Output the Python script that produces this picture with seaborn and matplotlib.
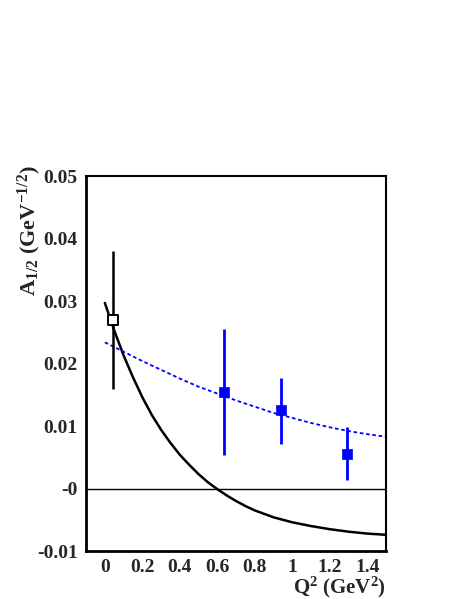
import numpy as np
import pandas as pd
import matplotlib
matplotlib.use("Agg")
import matplotlib.pyplot as plt
from matplotlib.ticker import MultipleLocator, FixedLocator, FixedFormatter
import seaborn as sns

# data
q2_open = [0.043]
a_open = [0.027]
err_open = [0.011]

q2_pts = [0.637, 0.94, 1.29]
a_pts = [0.0155, 0.0125, 0.0056]
err_lo = [0.0101, 0.0053, 0.0043]
err_hi = [0.0101, 0.0052, 0.0043]

q2_solid = [0.0, 0.05, 0.1, 0.15, 0.2, 0.25, 0.3, 0.35, 0.4, 0.45, 0.5, 0.55,
            0.6, 0.65, 0.7, 0.75, 0.8, 0.9, 1.0, 1.1, 1.2, 1.3, 1.4, 1.5]
a_solid = [0.0297, 0.0253, 0.0213, 0.0178, 0.0146, 0.0118, 0.0094, 0.0073,
           0.0054, 0.0038, 0.0023, 0.0010, -0.0001, -0.0011, -0.0020, -0.0028,
           -0.0035, -0.0046, -0.0054, -0.0060, -0.0065, -0.0069, -0.0072,
           -0.0074]

q2_dot = [0.0, 0.1, 0.2, 0.3, 0.4, 0.5, 0.6, 0.7, 0.8, 0.9, 1.0, 1.1, 1.2,
          1.3, 1.4, 1.5]
a_dot = [0.0234, 0.0219, 0.0204, 0.0190, 0.0176, 0.0163, 0.0152, 0.0141,
         0.0131, 0.0121, 0.0113, 0.0105, 0.0098, 0.0092, 0.0087, 0.0083]

sns.set_style("white")
plt.rcParams['font.family'] = ['Liberation Serif', 'DejaVu Serif']
plt.rcParams['font.weight'] = 'bold'
plt.rcParams['mathtext.fontset'] = 'custom'
plt.rcParams['mathtext.rm'] = 'Liberation Serif:bold'
plt.rcParams['mathtext.it'] = 'Liberation Serif:italic'
plt.rcParams['mathtext.bf'] = 'Liberation Serif:bold'

fig = plt.figure(figsize=(4.63, 5.99), dpi=100)
ax = fig.add_axes([0.186, 0.080, 0.648, 0.626])

ax.axhline(0, color='black', lw=1.0, zorder=1)

sns.lineplot(x=q2_solid, y=a_solid, ax=ax, color='black', lw=1.8, zorder=2)
sns.lineplot(x=q2_dot, y=a_dot, ax=ax, color='blue', lw=1.3, zorder=2,
             linestyle=(0, (2, 1.5)))

ax.errorbar(q2_open, a_open, yerr=err_open, fmt='none', ecolor='black',
            elinewidth=1.8, zorder=3)
sns.scatterplot(x=q2_open, y=a_open, ax=ax, marker='s', s=62,
                facecolor='white', edgecolor='black', linewidth=1.4, zorder=4)

ax.errorbar(q2_pts, a_pts, yerr=[err_lo, err_hi], fmt='none', ecolor='blue',
            elinewidth=2.0, zorder=3)
sns.scatterplot(x=q2_pts, y=a_pts, ax=ax, marker='s', s=62, color='blue',
                edgecolor='blue', linewidth=0.5, zorder=4)

ax.set_xlim(-0.1, 1.5)
ax.set_ylim(-0.01, 0.05)

xt = [0, 0.2, 0.4, 0.6, 0.8, 1.0, 1.2, 1.4]
ax.xaxis.set_major_locator(FixedLocator(xt))
ax.xaxis.set_major_formatter(FixedFormatter(['0', '0.2', '0.4', '0.6', '0.8', '1', '1.2', '1.4']))
ax.xaxis.set_minor_locator(MultipleLocator(0.05))
yt = [-0.01, 0.0, 0.01, 0.02, 0.03, 0.04, 0.05]
ax.yaxis.set_major_locator(FixedLocator(yt))
ax.yaxis.set_major_formatter(FixedFormatter(['-0.01', '-0', '0.01', '0.02', '0.03', '0.04', '0.05']))
ax.yaxis.set_minor_locator(MultipleLocator(0.002))

ax.tick_params(which='both', direction='in', top=False, right=False,
               labelsize=14, width=1.3, color='black')
ax.tick_params(which='major', length=6, pad=6)
ax.tick_params(which='minor', length=3)
for lab in ax.get_xticklabels() + ax.get_yticklabels():
    lab.set_fontweight('bold')

for side in ['left', 'bottom']:
    ax.spines[side].set_linewidth(2.0)
for side in ['top', 'right']:
    ax.spines[side].set_linewidth(1.5)
for s in ax.spines.values():
    s.set_color('black')

ax.set_ylabel(r'A$_{1/2}$ (GeV$^{-1/2}$)', fontsize=16, fontweight='bold',
              loc='top')
ax.yaxis.set_label_coords(-0.145, 1.03)
ax.set_xlabel(r'Q$^{2}$ (GeV$^{2}$)', fontsize=15, fontweight='bold',
              loc='right', labelpad=-1)

fig.savefig('out.png', dpi=100)
